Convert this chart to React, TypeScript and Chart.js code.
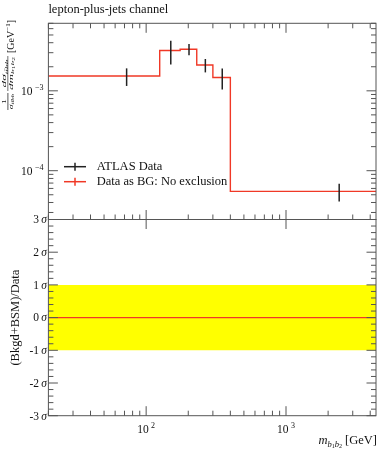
import React, { useEffect, useRef } from 'react';
import { Chart, registerables } from 'chart.js';

Chart.register(...registerables);

// ---------------- data ----------------
const binEdges = [20, 125, 175, 230, 300, 400, 4400];
const binCenters = [72.5, 150, 202.5, 265, 350, 2400];
const atlasValues = [1.53e-3, 3.19e-3, 3.32e-3, 2.10e-3, 1.47e-3, 5.51e-5];
const atlasErrors = [0.38e-3, 1.05e-3, 0.54e-3, 0.40e-3, 0.43e-3, 1.38e-5];
const bgValues = [1.53e-3, 3.19e-3, 3.32e-3, 2.10e-3, 1.47e-3, 5.51e-5];
const ratioValues = [0, 0, 0, 0, 0, 0];
const bandUpper = [1, 1, 1, 1, 1, 1];
const bandLower = -1;

const xRange = [20, 4400];
const yTopRange = [2.45e-5, 7e-3];
const sigmaRange = [-3, 3];

const xMajorTicks = [100, 1000];
const xMajorLabels = [['10', '2'], ['10', '3']];
const yTopMajorTicks = [1e-4, 1e-3];
const yTopMajorLabels = [['10', '−4'], ['10', '−3']];
const sigmaTicks = [-3, -2, -1, 0, 1, 2, 3];
const sigmaLabels = ['-3', '-2', '-1', '0', '1', '2', '3'];

const titleText = 'lepton-plus-jets channel';
const legendLabels = ['ATLAS Data', 'Data as BG: No exclusion'];

// ---------------- style ----------------
const SERIF = "'Liberation Serif', 'DejaVu Serif', serif";
const f = (size: number, style = '') => `${style} ${size}px ${SERIF}`.trim();
const AXIS = '#555';
const RED = 'rgb(240,56,38)';
const BLACK = '#222';
const YELLOW = '#ffff00';

function logMinors(lo: number, hi: number): number[] {
  const out: number[] = [];
  for (let e = Math.floor(Math.log10(lo)); e <= Math.ceil(Math.log10(hi)); e++) {
    for (let m = 2; m <= 9; m++) {
      const v = m * Math.pow(10, e);
      if (v >= lo * 0.999 && v <= hi * 1.001) out.push(v);
    }
  }
  return out;
}

type Part = { t: string; font: string; dy: number };
function measure(ctx: CanvasRenderingContext2D, parts: Part[]) {
  let w = 0;
  for (const p of parts) { ctx.font = p.font; w += ctx.measureText(p.t).width; }
  return w;
}
function drawRich(ctx: CanvasRenderingContext2D, parts: Part[], x: number, y: number, align: 'left' | 'right' | 'center') {
  const w = measure(ctx, parts);
  let cx = align === 'left' ? x : align === 'right' ? x - w : x - w / 2;
  ctx.textAlign = 'left';
  ctx.textBaseline = 'alphabetic';
  for (const p of parts) {
    ctx.font = p.font;
    ctx.fillText(p.t, cx, y + p.dy);
    cx += ctx.measureText(p.t).width;
  }
  return w;
}

function drawFrac(ctx: CanvasRenderingContext2D, u: number, num: Part[], den: Part[], target: number) {
  const wn = measure(ctx, num);
  const wd = measure(ctx, den);
  const w = Math.max(wn, wd) + 1;
  const sx = target / w;
  ctx.save();
  ctx.translate(u, 0);
  ctx.scale(sx, 1);
  drawRich(ctx, num, w / 2, -7.2, 'center');
  drawRich(ctx, den, w / 2, -0.6, 'center');
  ctx.lineWidth = 0.6;
  ctx.beginPath();
  ctx.moveTo(0, -5.6);
  ctx.lineTo(w, -5.6);
  ctx.stroke();
  ctx.restore();
  return target;
}

const decor = {
  id: 'decor',
  afterDatasetsDraw(chart: any) {
    const ctx: CanvasRenderingContext2D = chart.ctx;
    const xs = chart.scales.x;
    const yT = chart.scales.yTop;
    ctx.save();
    ctx.strokeStyle = BLACK;
    ctx.lineWidth = 1.5;
    binCenters.forEach((c, i) => {
      const px = xs.getPixelForValue(c);
      const y1 = yT.getPixelForValue(atlasValues[i] + atlasErrors[i]);
      const y2 = yT.getPixelForValue(atlasValues[i] - atlasErrors[i]);
      ctx.beginPath();
      ctx.moveTo(px, y1);
      ctx.lineTo(px, y2);
      ctx.stroke();
    });
    ctx.restore();
  },
  afterDraw(chart: any) {
    const ctx: CanvasRenderingContext2D = chart.ctx;
    const xs = chart.scales.x;
    const yT = chart.scales.yTop;
    const yB = chart.scales.yBot;
    const L = xs.left, R = xs.right;
    const MAJ = 9.5, MIN = 5;
    ctx.save();
    ctx.strokeStyle = AXIS;
    ctx.lineWidth = 1;
    const seg = (x1: number, y1: number, x2: number, y2: number) => {
      ctx.beginPath(); ctx.moveTo(x1, y1); ctx.lineTo(x2, y2); ctx.stroke();
    };
    // frames
    ctx.strokeRect(L, yT.top, R - L, yT.bottom - yT.top);
    ctx.strokeRect(L, yB.top, R - L, yB.bottom - yB.top);

    // x ticks
    const xMinors = logMinors(xRange[0], xRange[1]);
    for (const v of xMinors) {
      const p = xs.getPixelForValue(v);
      seg(p, yT.top, p, yT.top + MIN);
      seg(p, yT.bottom, p, yT.bottom - MIN);
      seg(p, yB.bottom, p, yB.bottom - MIN);
    }
    for (const v of xMajorTicks) {
      const p = xs.getPixelForValue(v);
      seg(p, yT.top, p, yT.top + MAJ);
      seg(p, yT.bottom, p, yT.bottom - MAJ);
      seg(p, yB.top, p, yB.top + MAJ);
      seg(p, yB.bottom, p, yB.bottom - MAJ);
    }
    // top y ticks
    for (const v of logMinors(yTopRange[0], yTopRange[1])) {
      const p = yT.getPixelForValue(v);
      seg(L, p, L + MIN, p);
      seg(R, p, R - MIN, p);
    }
    for (const v of yTopMajorTicks) {
      const p = yT.getPixelForValue(v);
      seg(L, p, L + MAJ, p);
      seg(R, p, R - MAJ, p);
    }
    // sigma ticks
    for (let k = 0; k <= 30; k++) {
      const v = sigmaRange[0] + k * 0.2;
      const p = yB.getPixelForValue(v);
      const major = k % 5 === 0;
      const len = major ? MAJ : MIN;
      seg(L, p, L + len, p);
      seg(R, p, R - len, p);
    }

    // labels
    ctx.fillStyle = '#111';
    xMajorTicks.forEach((v, i) => {
      const p = xs.getPixelForValue(v);
      drawRich(ctx, [
        { t: xMajorLabels[i][0], font: f(11.5), dy: 0 },
        { t: '\u2009', font: f(11.5), dy: 0 },
        { t: xMajorLabels[i][1], font: f(8), dy: -4.8 },
      ], p, 433, 'center');
    });
    yTopMajorTicks.forEach((v, i) => {
      const p = yT.getPixelForValue(v);
      drawRich(ctx, [
        { t: yTopMajorLabels[i][0], font: f(11.5), dy: 0 },
        { t: '\u2009', font: f(11.5), dy: 0 },
        { t: yTopMajorLabels[i][1], font: f(8), dy: -4.8 },
      ], L - 5, p + 3.8, 'right');
    });
    sigmaTicks.forEach((v, i) => {
      const p = yB.getPixelForValue(v);
      drawRich(ctx, [
        { t: sigmaLabels[i], font: f(11.5), dy: 0 },
        { t: ' ', font: f(9), dy: 0 },
        { t: 'σ', font: f(11.5, 'italic'), dy: 0 },
      ], L - 1.5, p + 3.8, 'right');
    });

    // title
    drawRich(ctx, [{ t: titleText, font: f(12.5), dy: 0 }], L, 13, 'left');

    // x title
    drawRich(ctx, [
      { t: 'm', font: f(12.5, 'italic'), dy: 0 },
      { t: 'b', font: f(8.5, 'italic'), dy: 2.5 },
      { t: '1', font: f(6, ''), dy: 4 },
      { t: 'b', font: f(8.5, 'italic'), dy: 2.5 },
      { t: '2', font: f(6, ''), dy: 4 },
      { t: ' [GeV]', font: f(12.5), dy: 0 },
    ], R + 1, 444, 'right');

    // bottom y title
    ctx.save();
    ctx.translate(18.5, (yB.top + yB.bottom) / 2);
    ctx.rotate(-Math.PI / 2);
    drawRich(ctx, [{ t: '(Bkgd+BSM)/Data', font: f(12.5), dy: 0 }], 0, 0, 'center');
    ctx.restore();

    // top y title
    ctx.save();
    ctx.translate(13.5, 110);
    ctx.rotate(-Math.PI / 2);
    ctx.strokeStyle = '#111';
    let u = 0;
    u += drawFrac(ctx, u,
      [{ t: '1', font: f(7), dy: 0 }],
      [{ t: 'σ', font: f(7, 'italic'), dy: 0 }, { t: 'tt̄bb', font: f(5, 'italic'), dy: 1.2 }],
      17);
    u += 2;
    u += drawFrac(ctx, u,
      [{ t: 'd', font: f(7, 'italic'), dy: 0 }, { t: 'σ', font: f(7, 'italic'), dy: 0 }, { t: 'tt̄bb', font: f(5, 'italic'), dy: 1.2 }],
      [{ t: 'dm', font: f(7, 'italic'), dy: 0 }, { t: 'b', font: f(5, 'italic'), dy: 1.2 }, { t: '1', font: f(4), dy: 2 }, { t: 'b', font: f(5, 'italic'), dy: 1.2 }, { t: '2', font: f(4), dy: 2 }],
      35);
    u += 3;
    drawRich(ctx, [
      { t: '[GeV', font: f(10), dy: 0 },
      { t: '−1', font: f(7), dy: -4 },
      { t: ']', font: f(10), dy: 0 },
    ], u, 0, 'left');
    ctx.restore();

    // legend
    const rows = [
      { label: legendLabels[0], color: BLACK, y: 166.7 },
      { label: legendLabels[1], color: RED, y: 181.7 },
    ];
    for (const r of rows) {
      ctx.strokeStyle = r.color;
      ctx.lineWidth = 1.5;
      seg(64, r.y, 86, r.y);
      seg(75, r.y - 4, 75, r.y + 4);
      ctx.fillStyle = '#111';
      ctx.font = f(12.5);
      ctx.textBaseline = 'middle';
      ctx.textAlign = 'left';
      ctx.fillText(r.label, 96.7, r.y + 0.5);
    }
    ctx.restore();
  },
};

export default function App() {
  const ref = useRef<HTMLCanvasElement | null>(null);
  useEffect(() => {
    document.body.style.margin = '0';
    const canvas = ref.current;
    if (!canvas) return;
    const n = bgValues.length;
    const stepData = binEdges.map((x, i) => ({ x, y: bgValues[Math.min(i, n - 1)] }));
    const ratioData = binEdges.map((x, i) => ({ x, y: ratioValues[Math.min(i, n - 1)] }));
    const bandData = binEdges.map((x, i) => ({ x, y: bandUpper[Math.min(i, n - 1)] }));
    const hidden = {
      ticks: { display: false },
      grid: { display: false, drawTicks: false },
      border: { display: false },
    };
    const chart = new Chart(canvas, {
      type: 'line',
      data: {
        datasets: [
          {
            label: legendLabels[1],
            data: stepData,
            xAxisID: 'x',
            yAxisID: 'yTop',
            borderColor: RED,
            borderWidth: 1.4,
            stepped: 'before',
            pointRadius: 0,
            fill: false,
            order: 1,
          },
          {
            label: 'ratio',
            data: ratioData,
            xAxisID: 'x',
            yAxisID: 'yBot',
            borderColor: RED,
            borderWidth: 1.4,
            stepped: 'before',
            pointRadius: 0,
            fill: false,
            order: 2,
          },
          {
            label: 'band',
            data: bandData,
            xAxisID: 'x',
            yAxisID: 'yBot',
            borderWidth: 0,
            borderColor: 'rgba(0,0,0,0)',
            backgroundColor: YELLOW,
            stepped: 'before',
            pointRadius: 0,
            fill: { value: bandLower },
            order: 10,
          },
        ],
      },
      options: {
        animation: false,
        responsive: false,
        maintainAspectRatio: false,
        layout: { padding: { top: 23.3, right: 13, bottom: 0, left: 0 } },
        plugins: {
          legend: { display: false },
          title: { display: false },
          tooltip: { enabled: false },
        },
        scales: {
          x: {
            type: 'logarithmic',
            position: 'bottom',
            min: xRange[0],
            max: xRange[1],
            ...hidden,
            afterFit: (s: any) => { s.height = 34.3; },
          },
          yBot: {
            type: 'linear',
            position: 'left',
            stack: 'panels',
            stackWeight: 1,
            min: sigmaRange[0],
            max: sigmaRange[1],
            ...hidden,
            afterFit: (s: any) => { s.width = 48.4; },
          },
          yTop: {
            type: 'logarithmic',
            position: 'left',
            stack: 'panels',
            stackWeight: 1,
            min: yTopRange[0],
            max: yTopRange[1],
            ...hidden,
            afterFit: (s: any) => { s.width = 48.4; },
          },
        } as any,
      },
      plugins: [decor],
    });
    return () => chart.destroy();
  }, []);
  return (
    <div style={{ position: 'absolute', left: 0, top: 0, width: 389, height: 450 }}>
      <canvas ref={ref} width={389} height={450} style={{ display: 'block', width: 389, height: 450 }} />
    </div>
  );
}
